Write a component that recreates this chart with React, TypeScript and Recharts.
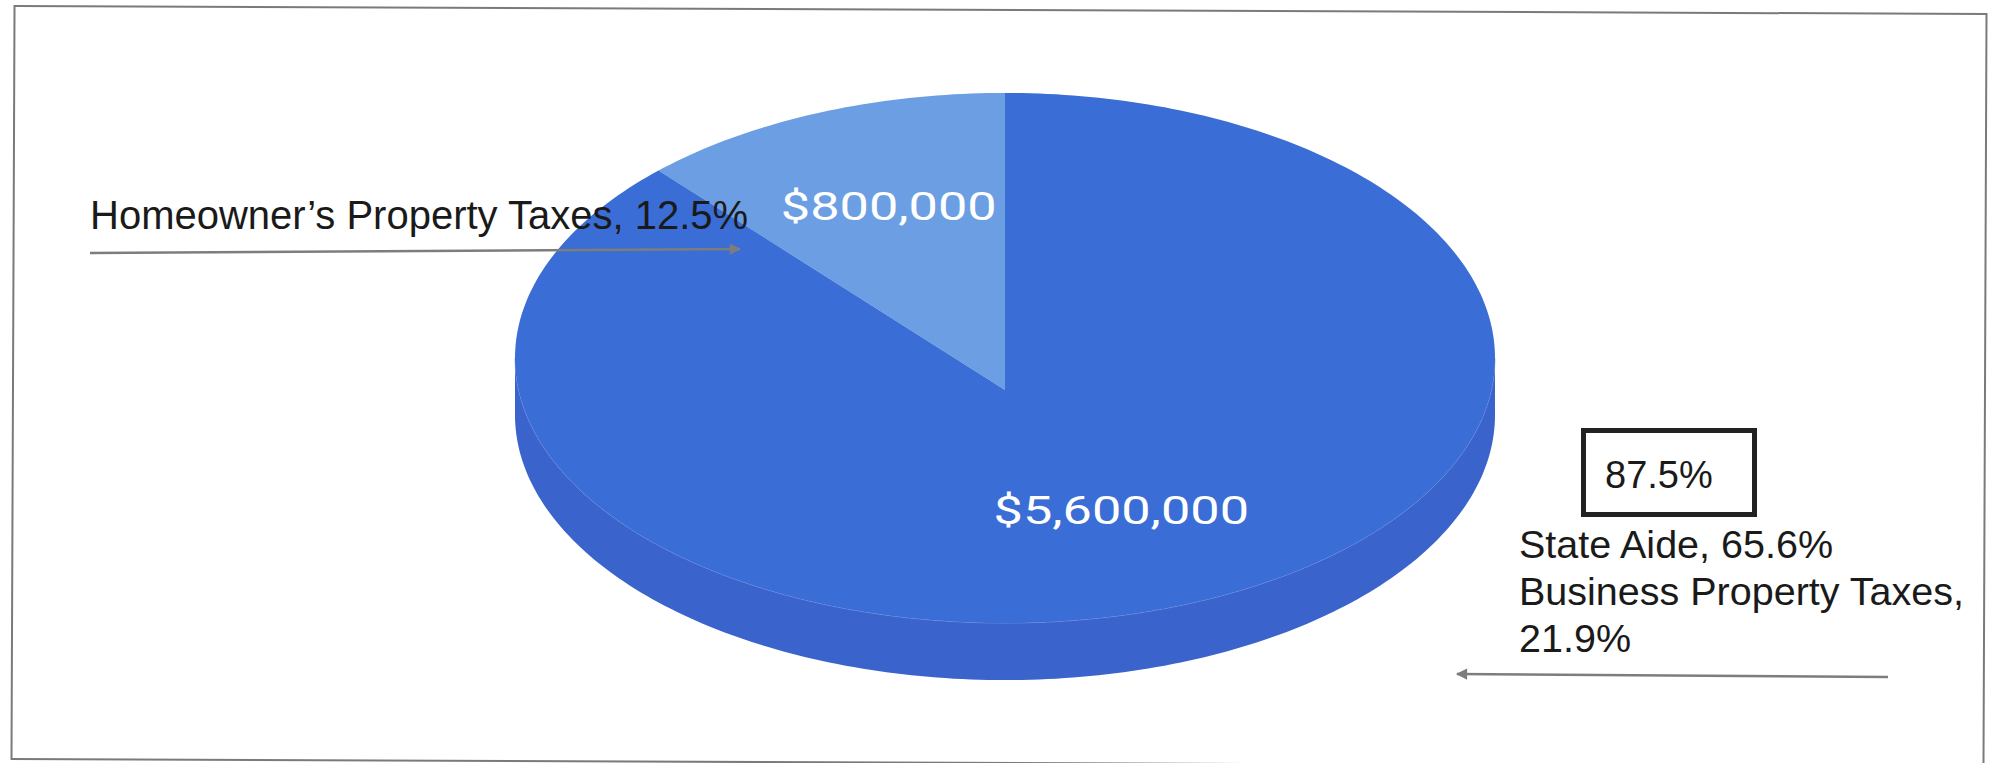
import React from "react";
import { PieChart, Pie, Cell } from "recharts";

// funding sources, dollars
const categories = ["Homeowner’s Property Taxes", "State Aide", "Business Property Taxes"];
const amounts = [800000, 4200000, 1400000];

// the chart only shows two wedges: homeowners vs. everything else
const sliceNames = ["Homeowner’s Property Taxes", "State Aide + Business Property Taxes"];
const sliceValues = [800000, 5600000];

const topColors = ["#6c9ee3", "#3a6dd5"];
const sideColor = "#3a63cb";

const W = 1995;
const H = 763;
const TILT = 0.541; // ry / rx of the top face
const DEPTH = 57; // thickness of the disc
const APEX_DROP = 32; // perspective: apex sits a bit below the ellipse centre

const total = amounts.reduce((a, b) => a + b, 0);
const pct = (v: number) => `${((v / total) * 100).toFixed(1)}%`;
const money = (v: number) => `$${v.toLocaleString("en-US")}`;

const pieData = sliceNames.map((name, i) => ({ name, value: sliceValues[i] }));

const ARIAL = '"Liberation Sans", Arial, sans-serif';

function rimPath(cx: number, cy: number, rx: number, ry: number, from: number, to: number, dy = 0) {
  const pts: string[] = [];
  const steps = Math.max(2, Math.ceil(Math.abs(to - from)));
  for (let k = 0; k <= steps; k++) {
    const a = ((from + ((to - from) * k) / steps) * Math.PI) / 180;
    pts.push(`${(cx + rx * Math.cos(a)).toFixed(2)},${(cy - ry * Math.sin(a) + dy).toFixed(2)}`);
  }
  return pts;
}

// draws one wedge of the 3d disc: side wall (front half only), top face and value label
const renderSlice = (props: any) => {
  const { cx, cy, outerRadius, startAngle, endAngle, midAngle, index, value } = props;
  const rx = outerRadius;
  const ry = outerRadius * TILT;
  const lo = Math.min(startAngle, endAngle);
  const hi = Math.max(startAngle, endAngle);

  const sides: React.ReactNode[] = [];
  for (let k = -1; k <= 2; k++) {
    const s = Math.max(lo, 180 + 360 * k);
    const e = Math.min(hi, 360 + 360 * k);
    if (e <= s) continue;
    const top = rimPath(cx, cy, rx, ry, s, e);
    const bottom = rimPath(cx, cy, rx, ry, e, s, DEPTH);
    sides.push(
      <g key={`side-${k}`}>
        <path d={`M${top.join("L")}L${bottom.join("L")}Z`} fill={sideColor} />
        <path d={`M${top.join("L")}`} fill="none" stroke="#7d9be6" strokeWidth={1} strokeOpacity={0.6} />
      </g>
    );
  }

  const face = `M${cx},${cy + APEX_DROP}L${rimPath(cx, cy, rx, ry, startAngle, endAngle).join("L")}Z`;

  const m = (midAngle * Math.PI) / 180;
  const lx = cx + rx * 0.62 * Math.cos(m);
  const ly = cy - ry * 0.62 * Math.sin(m);

  return (
    <g key={`slice-${index}`}>
      {sides}
      <path d={face} fill={topColors[index]} />
      <text
        x={0}
        y={0}
        transform={`translate(${lx},${ly + 14}) scale(1.34,1)`}
        textAnchor="middle"
        fill="#ffffff"
        fontFamily="Roboto, sans-serif"
        fontSize={39}
      >
        {money(value)}
      </text>
    </g>
  );
};

export default function App() {
  return (
    <div style={{ position: "absolute", left: 0, top: 0, width: W, height: H, background: "#fff", overflow: "hidden" }}>
      <PieChart width={W} height={H} margin={{ top: 0, right: 0, bottom: 0, left: 0 }}>
        <Pie
          data={pieData}
          dataKey="value"
          nameKey="name"
          cx={1005}
          cy={358}
          outerRadius={490}
          startAngle={90}
          endAngle={450}
          stroke="none"
          label={renderSlice}
          labelLine={false}
          isAnimationActive={false}
        >
          {pieData.map((d) => (
            <Cell key={d.name} fill="none" stroke="none" />
          ))}
        </Pie>
      </PieChart>

      <svg width={W} height={H} style={{ position: "absolute", left: 0, top: 0, pointerEvents: "none" }}>
        <defs>
          <marker id="arrow" viewBox="0 0 10 10" refX="9" refY="5" markerWidth="5" markerHeight="4.5" orient="auto">
            <path d="M0,0L10,5L0,10z" fill="#7d7d7d" />
          </marker>
        </defs>

        <text x={90} y={229} fontFamily={ARIAL} fontSize={40} fill="#1a1a1a">
          {`${categories[0]}, ${pct(amounts[0])}`}
        </text>
        <line x1={90} y1={253} x2={740} y2={249} stroke="#7d7d7d" strokeWidth={2.5} markerEnd="url(#arrow)" />

        <rect x={1583.5} y={430.5} width={171} height={84} fill="none" stroke="#222" strokeWidth={5} />
        <text x={1605} y={488} fontFamily={ARIAL} fontSize={38} fill="#1a1a1a">
          {pct(amounts[1] + amounts[2])}
        </text>

        <text fontFamily={ARIAL} fontSize={39.5} fill="#1a1a1a">
          <tspan x={1519} y={558}>{`${categories[1]}, ${pct(amounts[1])}`}</tspan>
          <tspan x={1519} y={605}>{`${categories[2]},`}</tspan>
          <tspan x={1519} y={652}>{pct(amounts[2])}</tspan>
        </text>
        <line x1={1888} y1={677} x2={1457} y2={674} stroke="#7d7d7d" strokeWidth={2.5} markerEnd="url(#arrow)" />
      </svg>

      <div
        style={{
          position: "absolute",
          left: 12,
          top: 9,
          width: 1974,
          height: 755,
          boxSizing: "border-box",
          border: "2.5px solid #7a7a7a",
          transform: "rotate(0.23deg)",
          pointerEvents: "none",
        }}
      />
    </div>
  );
}
